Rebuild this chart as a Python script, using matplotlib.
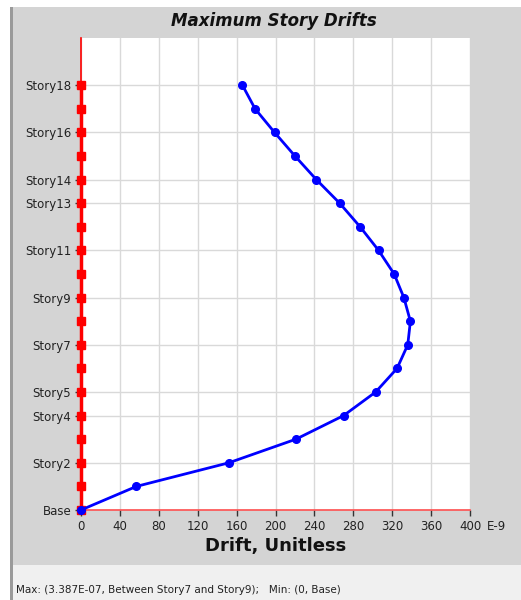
import matplotlib.pyplot as plt
from matplotlib.patches import Rectangle

# story levels and their drifts (units of 1E-9)
stories = ["Base"] + ["Story%d" % i for i in range(1, 19)]
drift = [0, 57, 152, 221, 270, 303, 325, 336, 338.7, 332, 322, 306,
         287, 266, 242, 220, 199, 179, 166]
shown_labels = ["Story18", "Story16", "Story14", "Story13", "Story11",
                "Story9", "Story7", "Story5", "Story4", "Story2", "Base"]
x_ticks = [0, 40, 80, 120, 160, 200, 240, 280, 320, 360, 400]

plt.rcParams['font.family'] = ['DejaVu Sans']

fig = plt.figure(figsize=(5.21, 6.0), dpi=100)
fig.patch.set_facecolor('white')

# grey chart panel, status bar and left border
fig.patches.append(Rectangle((12 / 521, 35 / 600), 509 / 521, 558 / 600,
                             transform=fig.transFigure, facecolor='#d4d4d4',
                             edgecolor='none', zorder=-3))
fig.patches.append(Rectangle((12 / 521, 0), 509 / 521, 35 / 600,
                             transform=fig.transFigure, facecolor='#f0f0f0',
                             edgecolor='none', zorder=-3))
fig.patches.append(Rectangle((10 / 521, 0), 2.5 / 521, 593 / 600,
                             transform=fig.transFigure, facecolor='#9a9a9a',
                             edgecolor='none', zorder=-2))

ax = fig.add_axes([81 / 521, 90 / 600, 389 / 521, 472 / 600])
ax.set_facecolor('white')

levels = list(range(len(stories)))

# red reference line at zero drift
ax.plot([0] * len(levels), levels, color='red', lw=2.5, marker='s',
        ms=5.5, zorder=4, clip_on=False)
# drift profile
ax.plot(drift, levels, color='#0000ff', lw=2, marker='o', ms=5.5,
        zorder=5, clip_on=False)

ax.set_xlim(0, 400)
ax.set_ylim(0, 20)
ax.set_xticks(x_ticks)
ax.set_xticklabels([str(v) for v in x_ticks], fontsize=8.5, color='#222222')
ax.set_yticks([stories.index(s) for s in shown_labels])
ax.set_yticklabels(shown_labels, fontsize=8.5, color='#222222')
ax.tick_params(axis='both', length=4, width=1, color='#333333', pad=3)

ax.grid(True, color='#d9d9d9', lw=1)
ax.set_axisbelow(True)

for side in ['top', 'right']:
    ax.spines[side].set_visible(False)
ax.spines['left'].set_color('red')
ax.spines['left'].set_linewidth(1.2)
ax.spines['bottom'].set_color('#ff5050')
ax.spines['bottom'].set_linewidth(1.2)

ax.set_xlabel("Drift, Unitless", fontsize=13, fontweight='bold',
              color='#111111', labelpad=3)

# exponent note beside the last x tick
fig.text(487 / 521, 1 - 526 / 600, "E-9", fontsize=8.5,
         color='#222222', ha='left', va='center')

fig.text(0.525, 0.965, "Maximum Story Drifts", fontsize=12,
         fontweight='bold', fontstyle='italic', color='#111111',
         ha='center', va='center')
fig.text(16 / 521, 10 / 600,
         "Max: (3.387E-07, Between Story7 and Story9);   Min: (0, Base)",
         fontsize=7.5, color='#222222', ha='left', va='center')

fig.savefig("out.png", dpi=100)
